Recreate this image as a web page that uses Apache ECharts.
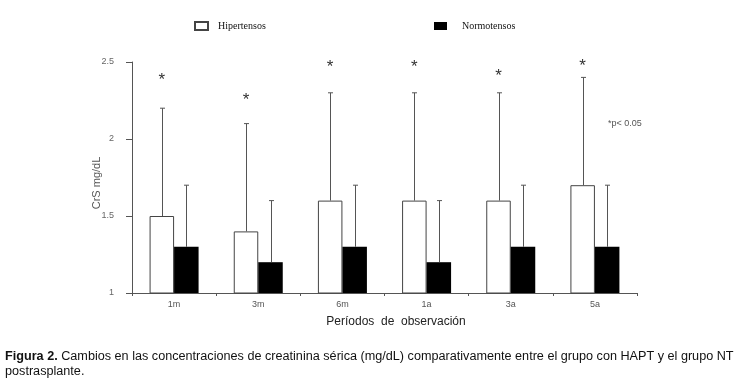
<!DOCTYPE html>
<html>
<head>
<meta charset="utf-8">
<script src="https://cdn.jsdelivr.net/npm/echarts@6/dist/echarts.min.js"></script>
<style>
html,body{margin:0;padding:0;background:#fff;}
#chart{width:739px;height:385px;}
</style>
</head>
<body>
<div id="chart"></div>
<script>
// periodos de observacion
var categories = ['1m', '3m', '6m', '1a', '3a', '5a'];
// CrS mg/dL medias
var hiperMean = [1.5, 1.4, 1.6, 1.6, 1.6, 1.7];
var normoMean = [1.3, 1.2, 1.3, 1.2, 1.3, 1.3];
// extremo superior de la barra de error
var hiperUpper = [2.2, 2.1, 2.3, 2.3, 2.3, 2.4];
var normoUpper = [1.7, 1.6, 1.7, 1.6, 1.7, 1.7];
// altura de los asteriscos (p<0.05)
var starLevel = [2.41, 2.28, 2.49, 2.49, 2.43, 2.5];
var yTicks = [1, 1.5, 2, 2.5];

var chart = echarts.init(document.getElementById('chart'));
var barW = 24.5;

function errorRender(offset) {
    return function (params, api) {
        var i = api.value(0);
        var base = api.coord([i, api.value(1)]);
        var hi = api.coord([i, api.value(2)]);
        var x = Math.round(base[0] + offset) + 0.5;
        var st = {stroke: '#555', lineWidth: 1};
        return {
            type: 'group',
            children: [
                {type: 'line', shape: {x1: x, y1: base[1], x2: x, y2: hi[1]}, style: st},
                {type: 'line', shape: {x1: x - 2.5, y1: hi[1], x2: x + 2.5, y2: hi[1]}, style: st}
            ]
        };
    };
}

function starRender(params, api) {
    var p = api.coord([api.value(0), api.value(1)]);
    return {
        type: 'text',
        x: p[0] - barW / 2,
        y: p[1] + 4,
        style: {
            text: '*',
            font: '17px "Liberation Sans"',
            fill: '#333',
            align: 'center',
            verticalAlign: 'middle'
        }
    };
}

var option = {
    animation: false,
    backgroundColor: '#fff',
    grid: {left: 132, right: 102, top: 62, bottom: 92},
    legend: [
        {
            data: ['Hipertensos'], left: 189, top: 16, icon: 'rect',
            itemWidth: 13, itemHeight: 8, selectedMode: false,
            textStyle: {fontFamily: 'Liberation Serif', fontSize: 10, color: '#111', padding: [0, 0, 0, 5]}
        },
        {
            data: ['Normotensos'], left: 429, top: 16, icon: 'rect',
            itemWidth: 13, itemHeight: 8, selectedMode: false,
            textStyle: {fontFamily: 'Liberation Serif', fontSize: 10, color: '#111', padding: [0, 0, 0, 10]}
        }
    ],
    xAxis: {
        type: 'category',
        data: categories,
        axisLine: {lineStyle: {color: '#555', width: 1}},
        axisTick: {show: true, length: 3, lineStyle: {color: '#555'}},
        axisLabel: {color: '#555', fontSize: 9, margin: 7, fontFamily: 'Liberation Sans'}
    },
    yAxis: {
        type: 'value',
        min: 1,
        max: 2.5,
        interval: 0.5,
        splitLine: {show: false},
        axisLine: {show: true, lineStyle: {color: '#555', width: 1}},
        axisTick: {show: true, length: 6, lineStyle: {color: '#555'}},
        axisLabel: {
            color: '#666', fontSize: 9, margin: 18, fontFamily: 'Liberation Sans',
            formatter: function (v) { return yTicks.indexOf(v) >= 0 ? String(v) : ''; }
        }
    },
    series: [
        {
            name: 'Hipertensos',
            type: 'bar',
            data: hiperMean,
            barWidth: barW,
            barGap: '0%',
            itemStyle: {color: '#fff', borderColor: '#444', borderWidth: 1}
        },
        {
            name: 'Normotensos',
            type: 'bar',
            data: normoMean,
            barWidth: barW,
            barGap: '0%',
            itemStyle: {color: '#000', borderColor: '#000', borderWidth: 0}
        },
        {
            type: 'custom',
            renderItem: errorRender(-barW / 2),
            data: categories.map(function (c, i) { return [i, hiperMean[i], hiperUpper[i]]; }),
            z: 5,
            silent: true
        },
        {
            type: 'custom',
            renderItem: errorRender(barW / 2),
            data: categories.map(function (c, i) { return [i, normoMean[i], normoUpper[i]]; }),
            z: 5,
            silent: true
        },
        {
            type: 'custom',
            renderItem: starRender,
            data: categories.map(function (c, i) { return [i, starLevel[i]]; }),
            z: 5,
            silent: true
        }
    ],
    graphic: [
        {
            type: 'text', left: 608, top: 119,
            style: {text: '*p< 0.05', font: '9px "Liberation Sans"', fill: '#555'}
        },
        {
            type: 'text', x: 97, y: 183, rotation: Math.PI / 2,
            style: {text: 'CrS mg/dL', font: '11px "Liberation Sans"', fill: '#555', align: 'center', verticalAlign: 'middle'}
        },
        {
            type: 'text', x: 396, y: 322,
            style: {text: 'Períodos  de  observación', font: '12px "Liberation Sans"', fill: '#222', align: 'center', verticalAlign: 'middle'}
        },
        {
            type: 'text', left: 5, top: 349,
            style: {
                text: '{b|Figura 2.} Cambios en las concentraciones de creatinina sérica (mg/dL) comparativamente entre el grupo con HAPT y el grupo NT\npostrasplante.',
                font: '12.65px "Liberation Sans"',
                fill: '#111',
                lineHeight: 15,
                rich: {b: {fontWeight: 'bold', fontSize: 12.65, fontFamily: 'Liberation Sans', fill: '#111'}}
            }
        }
    ]
};
chart.setOption(option);
</script>
</body>
</html>
